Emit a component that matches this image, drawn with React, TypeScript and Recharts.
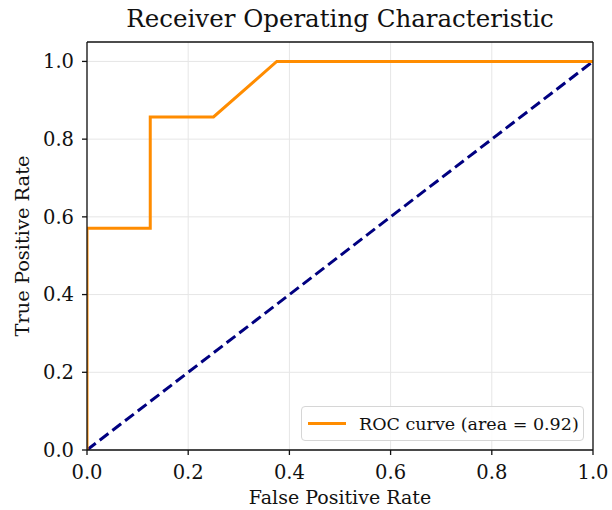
import { LineChart, Line, XAxis, YAxis, CartesianGrid } from 'recharts';

const rocFpr = [0, 0, 0.125, 0.125, 0.25, 0.375, 1.0];
const rocTpr = [0, 0.571, 0.571, 0.857, 0.857, 1.0, 1.0];
const chanceFpr = [0, 1];
const chanceTpr = [0, 1];
const xTicks = [0, 0.2, 0.4, 0.6, 0.8, 1.0];
const yTicks = [0, 0.2, 0.4, 0.6, 0.8, 1.0];

const rocData = rocFpr.map((fpr, i) => ({ fpr, tpr: rocTpr[i] }));
const chanceData = chanceFpr.map((fpr, i) => ({ fpr, tpr: chanceTpr[i] }));

const FONT = '"DejaVu Serif", serif';
const tickStyle = { fontFamily: FONT, fontSize: 19.5, fill: '#111' };

const LegendBox = () => (
  <div
    style={{
      position: 'absolute',
      left: 301,
      top: 406,
      width: 283,
      height: 35,
      border: '1px solid #d6d6d6',
      borderRadius: 4,
      background: 'rgba(255,255,255,0.85)',
      boxSizing: 'border-box',
      display: 'flex',
      alignItems: 'center',
      fontFamily: FONT,
      fontSize: 17.5,
      color: '#111',
    }}
  >
    <span style={{ display: 'inline-block', width: 38, height: 3, background: '#ff8c00', marginLeft: 6, marginRight: 13 }} />
    ROC curve (area = 0.92)
  </div>
);

export default function App() {
  return (
    <div style={{ position: 'absolute', left: 0, top: 0, width: 612, height: 510, background: '#fff', overflow: 'hidden' }}>
      <LineChart
        width={612}
        height={510}
        margin={{ top: 41, right: 18, bottom: 59, left: 86 }}
        style={{ position: 'absolute', left: 0, top: 0 }}
      >
        <CartesianGrid stroke="#e6e6e6" strokeWidth={1} horizontalValues={yTicks} verticalValues={xTicks} />
        <XAxis
          type="number"
          dataKey="fpr"
          domain={[0, 1]}
          ticks={xTicks}
          tickFormatter={(v: number) => v.toFixed(1)}
          height={1}
          tickSize={5}
          tickMargin={10}
          stroke="#111"
          strokeWidth={1.3}
          tickLine={{ stroke: '#111' }}
          tick={tickStyle}
          allowDataOverflow
        />
        <YAxis
          type="number"
          dataKey="tpr"
          domain={[0, 1.05]}
          ticks={yTicks}
          tickFormatter={(v: number) => v.toFixed(1)}
          width={1}
          tickSize={5}
          tickMargin={8}
          stroke="#111"
          strokeWidth={1.3}
          tickLine={{ stroke: '#111' }}
          tick={tickStyle}
          allowDataOverflow
        />
        <XAxis xAxisId="top" orientation="top" type="number" domain={[0, 1]} ticks={[]} tick={false} height={1} stroke="#111" strokeWidth={1.3} />
        <YAxis yAxisId="right" orientation="right" type="number" domain={[0, 1]} ticks={[]} tick={false} width={1} stroke="#111" strokeWidth={1.3} />
        <Line
          data={chanceData}
          dataKey="tpr"
          stroke="#000080"
          strokeWidth={3}
          strokeDasharray="11 5"
          dot={false}
          isAnimationActive={false}
        />
        <Line
          data={rocData}
          dataKey="tpr"
          stroke="#ff8c00"
          strokeWidth={3}
          dot={false}
          isAnimationActive={false}
        />
      </LineChart>
      <div
        style={{
          position: 'absolute',
          left: 87,
          width: 506,
          top: 487,
          lineHeight: 1.15,
          textAlign: 'center',
          fontFamily: FONT,
          fontSize: 19,
          color: '#111',
        }}
      >
        False Positive Rate
      </div>
      <div
        style={{
          position: 'absolute',
          left: 87,
          width: 506,
          top: 4,
          textAlign: 'center',
          fontFamily: FONT,
          fontSize: 24.5,
          color: '#111',
        }}
      >
        Receiver Operating Characteristic
      </div>
      <div
        style={{
          position: 'absolute',
          left: 22,
          top: 246,
          transform: 'translate(-50%, -50%) rotate(-90deg)',
          whiteSpace: 'nowrap',
          fontFamily: FONT,
          fontSize: 19.4,
          color: '#111',
        }}
      >
        True Positive Rate
      </div>
      <LegendBox />
    </div>
  );
}
